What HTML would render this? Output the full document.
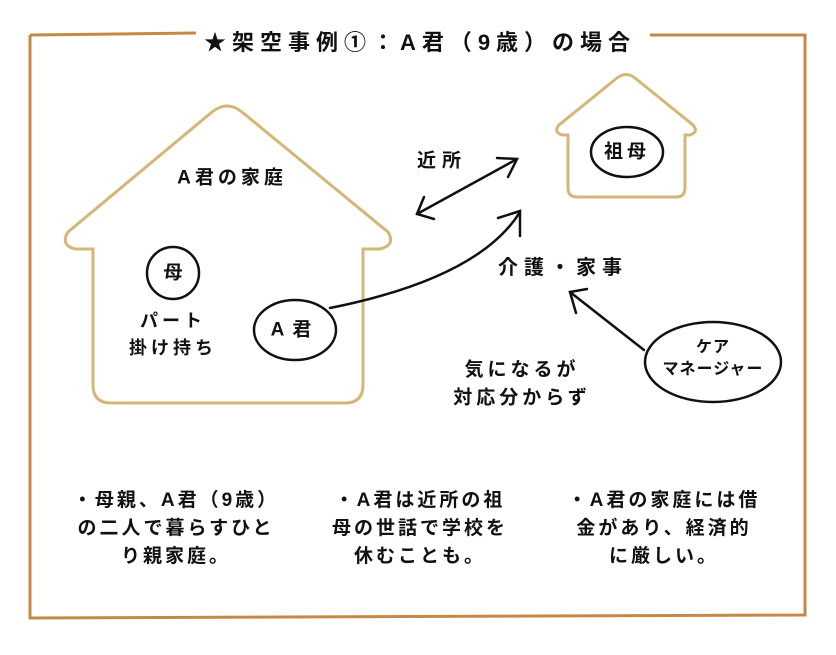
<!DOCTYPE html>
<html><head><meta charset="utf-8"><style>
html,body{margin:0;padding:0;background:#fff;}
body{width:836px;height:655px;position:relative;overflow:hidden;font-family:"Liberation Sans","Noto Sans CJK JP",sans-serif;color:#111;}
svg{position:absolute;left:0;top:0;}
.t{position:absolute;white-space:nowrap;transform:translate(-50%,-50%);letter-spacing:4px;line-height:1;font-weight:bold;}
.b{position:absolute;text-align:center;transform:translateX(-50%);font-size:19px;line-height:28px;letter-spacing:3px;white-space:nowrap;font-weight:bold;}
</style></head><body>
<svg width="836" height="655" viewBox="0 0 836 655">
  <path d="M30 35 L196 33 M650 35 L805 35 L805 615 L30 618 L30 35" fill="none" stroke="#c48a45" stroke-width="3"/>
  <path d="M93 249 L75 249 Q60 245 68 232 L212 112 Q227 100 242 112 L388 232 Q396 245 380 249 L363 249 L363 385 Q363 403 345 403 L111 403 Q93 403 93 385 Z" fill="none" stroke="#d2b776" stroke-width="3"/>
  <path d="M568 135 L562 135 Q553 132 559 125 L617 78 Q626 71 635 78 L693 125 Q699 132 690 135 L685 135 L685 188 Q685 197 676 197 L577 197 Q568 197 568 188 Z" fill="none" stroke="#d2b776" stroke-width="3"/>
  <g fill="none" stroke="#111" stroke-width="2.5" stroke-linecap="round">
    <circle cx="173" cy="273" r="26"/>
    <ellipse cx="295" cy="330" rx="41" ry="30"/>
    <ellipse cx="627" cy="152" rx="36" ry="25"/>
    <ellipse cx="713" cy="362" rx="68" ry="40"/>
    <path d="M417 214 L517 159"/>
    <path d="M497 158 L517 159 L508 177"/>
    <path d="M424 197 L417 214 L434 219"/>
    <path d="M330 308 C420 290 490 260 520 212"/>
    <path d="M498 218 L520 211 L520 236"/>
    <path d="M644 350 L570 292"/>
    <path d="M587 289 L570 292 L576 313"/>
  </g>
</svg>
<div class="t" style="left:420px;top:43px;font-size:22px;letter-spacing:6px;">★架空事例①：A君（9歳）の場合</div>
<div class="t" style="left:232px;top:178px;font-size:19px;">A君の家庭</div>
<div class="t" style="left:173px;top:273px;font-size:19px;letter-spacing:0">母</div>
<div class="t" style="left:173px;top:321px;font-size:18px;">パート</div>
<div class="t" style="left:173px;top:348px;font-size:18px;">掛け持ち</div>
<div class="t" style="left:295px;top:330px;font-size:19px;letter-spacing:8px">A君</div>
<div class="t" style="left:627px;top:152px;font-size:19px;">祖母</div>
<div class="t" style="left:442px;top:161px;font-size:19px;letter-spacing:6px">近所</div>
<div class="t" style="left:563px;top:268px;font-size:20px;letter-spacing:6px">介護・家事</div>
<div class="t" style="left:522px;top:370px;font-size:19px;">気になるが</div>
<div class="t" style="left:522px;top:398px;font-size:19px;">対応分からず</div>
<div class="t" style="left:713px;top:348px;font-size:16px;letter-spacing:1px">ケア</div>
<div class="t" style="left:713px;top:370px;font-size:16px;letter-spacing:1px">マネージャー</div>
<div class="b" style="left:176px;top:487px;">・母親、A君（9歳）<br>の二人で暮らすひと<br>り親家庭。</div>
<div class="b" style="left:420px;top:487px;">・A君は近所の祖<br>母の世話で学校を<br>休むことも。</div>
<div class="b" style="left:664px;top:487px;">・A君の家庭には借<br>金があり、経済的<br>に厳しい。</div>
</body></html>
